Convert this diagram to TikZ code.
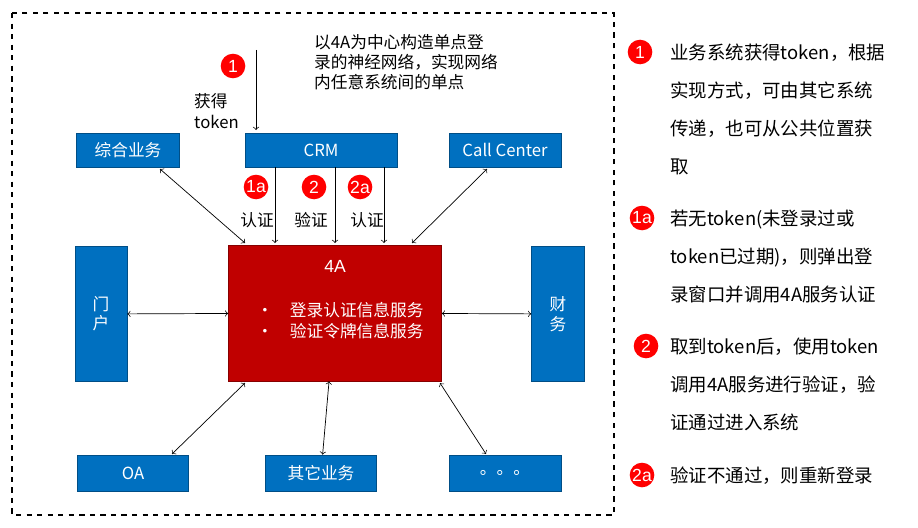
\documentclass[tikz,border=0pt]{standalone}
\usepackage{fontspec}
\setmainfont{Liberation Sans}
\newfontfamily\cjk{Noto Sans CJK SC}
\usetikzlibrary{positioning}
\definecolor{sysblue}{RGB}{0,112,192}
\definecolor{darkred}{RGB}{192,0,0}
\tikzset{sys/.style={draw=sysblue!70!black,fill=sysblue,text=white,font=\cjk\fontsize{9.5}{11}\selectfont,inner sep=0pt},
 badge/.style={circle,fill=red,text=white,inner sep=0pt,minimum size=14pt,font=\fontsize{10}{10}\selectfont},
 link/.style={<->,black,thin},
 down/.style={->,black,thin},
 note/.style={font=\cjk\fontsize{10.5}{21.5}\selectfont,align=left,anchor=north west}}
\begin{document}
\begin{tikzpicture}[x=0.02cm,y=-0.02cm]
  \useasboundingbox (0,0) rectangle (918,527);
  \draw[dashed,thick] (12,13) rectangle (614,515);
  % systems
  \node[sys,minimum width=2.06cm,minimum height=0.68cm] (zh) at (128,150) {综合业务};
  \node[sys,minimum width=3.04cm,minimum height=0.68cm] (crm) at (321,150) {CRM};
  \node[sys,minimum width=2.24cm,minimum height=0.68cm] (cc) at (505,150) {Call Center};
  \node[sys,minimum width=1.04cm,minimum height=2.7cm,align=center] (mh) at (101,314) {门\\户};
  \node[sys,minimum width=1.06cm,minimum height=2.7cm,align=center] (cw) at (558,314) {财\\务};
  \node[sys,minimum width=2.22cm,minimum height=0.72cm] (oa) at (133,473) {OA};
  \node[sys,minimum width=2.22cm,minimum height=0.72cm] (qt) at (321,473) {其它业务};
  \node[sys,minimum width=2.24cm,minimum height=0.72cm] (dd) at (505,473) {。。。};
  \node[draw=darkred!70!black,fill=darkred,minimum width=4.26cm,minimum height=2.72cm,inner sep=0pt] (aa) at (335,313) {};
  \node[text=white,font=\fontsize{10}{10}\selectfont] (aat) at (335,266) {4A};
  \node[text=white,font=\cjk\fontsize{9.5}{12}\selectfont,align=left] (aab) at (340,321) {•\quad 登录认证信息服务\\•\quad 验证令牌信息服务};
  % links
  \coordinate (z1) at (160,169);
  \coordinate (c1) at (487,169);
  \coordinate (o1) at (172,454);
  \coordinate (d1) at (486,454);
  \draw[link] (z1) -- (245,243);
  \draw[link] (c1) -- (412,243);
  \draw[link] (mh) -- (aa);
  \draw[link] (aa) -- (cw);
  \draw[link] (o1) -- (245,383);
  \draw[link] (qt) -- (aa);
  \draw[link] (d1) -- (440,383);
  \draw[down] (275,167) -- (275,243);
  \draw[down] (335,167) -- (335,243);
  \draw[down] (384,167) -- (384,243);
  \draw[down] (256,50) -- (256,130);
  % badges on the picture
  \node[badge] (m1) at (233,66) {1};
  \node[badge] (m1a) at (256,187) {1a};
  \node[badge] (m2) at (314,187) {2};
  \node[badge] (m2a) at (360,187) {2a};
  \node[font=\cjk\fontsize{9.5}{11}\selectfont] (l1) at (257,220) {认证};
  \node[font=\cjk\fontsize{9.5}{11}\selectfont] (l2) at (311,220) {验证};
  \node[font=\cjk\fontsize{9.5}{11}\selectfont] (l3) at (367,220) {认证};
  \node[font=\cjk\fontsize{9.5}{11.5}\selectfont,align=left,anchor=west] (tk) at (188,111) {获得\\token};
  \node[font=\cjk\fontsize{9.5}{11.5}\selectfont,align=left,anchor=north west] (tp) at (308,28) {以4A为中心构造单点登\\录的神经网络，实现网络\\内任意系统间的单点};
  % notes
  \node[badge] (n1) at (640,52) {1};
  \node[note] (t1) at (664,38) {业务系统获得token，根据\\实现方式，可由其它系统\\传递，也可从公共位置获\\取};
  \node[badge] (n1a) at (642,218) {1a};
  \node[note] (t1a) at (664,204) {若无token(未登录过或\\token已过期)，则弹出登\\录窗口并调用4A服务认证};
  \node[badge] (n2) at (646,346) {2};
  \node[note] (t2) at (664,332) {取到token后，使用token\\调用4A服务进行验证，验\\证通过进入系统};
  \node[badge] (n2a) at (642,475) {2a};
  \node[note] (t2a) at (664,461) {验证不通过，则重新登录};
\end{tikzpicture}
\end{document}
